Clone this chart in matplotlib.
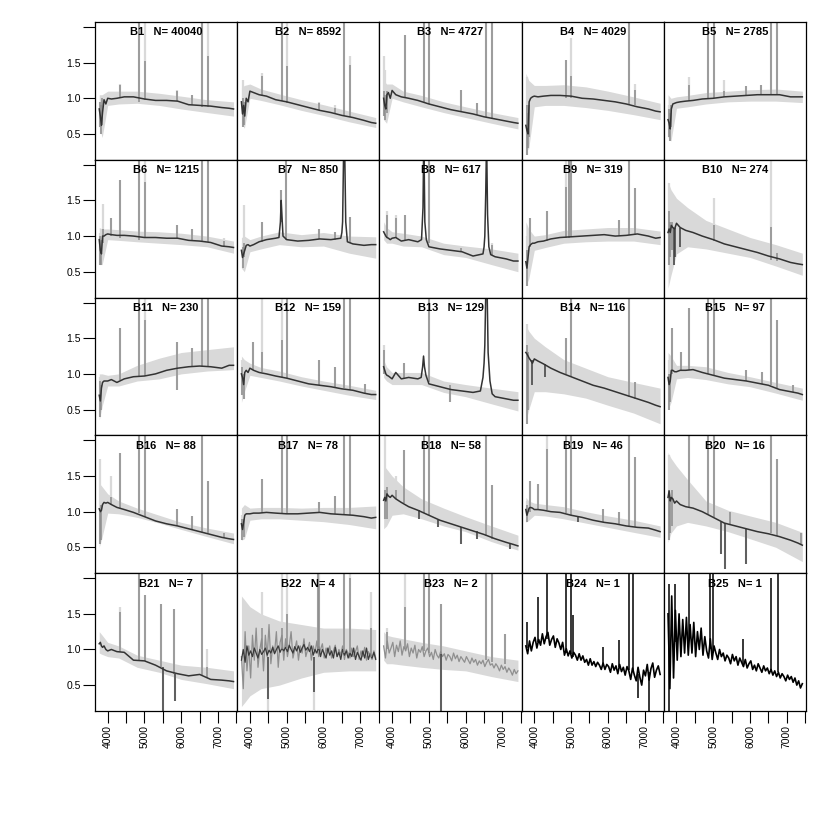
import numpy as np
import matplotlib
matplotlib.use("Agg")
import matplotlib.pyplot as plt

plt.rcParams['font.family'] = ['Liberation Sans', 'DejaVu Sans']

# ---- data ----
counts = [40040, 8592, 4727, 4029, 2785, 1215, 850, 617, 319, 274,
          230, 159, 129, 116, 97, 88, 78, 58, 46, 16, 7, 4, 2, 1, 1]

wave_med = [3770, 3800, 3830, 3860, 3900, 3950, 4000, 4100, 4250, 4450, 4700,
            5000, 5300, 5600, 5900, 6200, 6500, 6800, 7100, 7300, 7420]

# median spectrum of each group (None -> only the noisy curves below)
median = [
    [0.85, 0.75, 0.62, 0.8, 0.98, 0.92, 1.0, 0.99, 1.0, 1.02, 1.02, 0.99, 0.97, 0.97, 0.96, 0.91, 0.9, 0.89, 0.87, 0.86, 0.85],
    [0.95, 0.78, 0.9, 0.75, 1.0, 0.95, 1.1, 1.08, 1.05, 1.03, 0.98, 0.95, 0.91, 0.87, 0.83, 0.8, 0.76, 0.73, 0.69, 0.66, 0.65],
    [1.0, 0.9, 0.85, 1.05, 1.08, 1.0, 1.11, 1.05, 1.02, 1.0, 0.97, 0.92, 0.88, 0.84, 0.81, 0.78, 0.74, 0.71, 0.68, 0.66, 0.65],
    [0.62, 0.55, 0.5, 0.95, 1.0, 1.02, 1.03, 1.02, 1.03, 1.04, 1.04, 1.03, 1.0, 0.99, 0.97, 0.95, 0.92, 0.88, 0.85, 0.82, 0.81],
    [0.7, 0.65, 0.57, 0.85, 0.92, 0.93, 0.94, 0.95, 0.96, 0.97, 0.99, 1.0, 1.02, 1.03, 1.04, 1.05, 1.05, 1.05, 1.02, 1.02, 1.02],
    [0.95, 0.8, 0.75, 1.0, 1.0, 1.02, 1.03, 1.02, 1.01, 1.01, 1.0, 0.98, 0.98, 0.97, 0.97, 0.94, 0.93, 0.91, 0.86, 0.85, 0.84],
    [0.8, 0.7, 0.75, 0.8, 0.87, 0.88, 0.86, 0.88, 0.92, 0.95, 0.97, 0.95, 0.93, 0.94, 0.96, 0.95, 1.05, 0.89, 0.87, 0.88, 0.88],
    [1.06, 1.03, 1.0, 0.98, 0.97, 0.95, 0.97, 0.98, 0.93, 0.95, 0.92, 0.85, 0.82, 0.8, 0.78, 0.72, 0.85, 0.71, 0.68, 0.65, 0.65],
    [0.64, 0.55, 0.7, 0.85, 0.88, 0.9, 0.9, 0.92, 0.93, 0.96, 0.98, 0.99, 1.0, 1.01, 1.02, 1.0, 1.01, 1.03, 1.0, 0.97, 0.98],
    [1.05, 1.1, 1.05, 1.15, 1.12, 1.1, 1.18, 1.12, 1.08, 1.05, 1.0, 0.95, 0.89, 0.85, 0.81, 0.77, 0.72, 0.68, 0.63, 0.61, 0.6],
    [0.7, 0.62, 0.8, 0.88, 0.9, 0.9, 0.9, 0.92, 0.88, 0.93, 0.96, 0.97, 1.0, 1.05, 1.08, 1.1, 1.11, 1.1, 1.08, 1.12, 1.12],
    [1.0, 0.95, 0.85, 1.02, 1.05, 1.02, 1.08, 1.05, 1.02, 1.0, 0.97, 0.94, 0.9, 0.86, 0.84, 0.82, 0.79, 0.77, 0.73, 0.71, 0.71],
    [1.1, 1.05, 1.0, 0.98, 0.97, 0.95, 0.93, 1.02, 0.93, 0.95, 0.93, 0.86, 0.82, 0.78, 0.76, 0.74, 1.15, 0.68, 0.65, 0.63, 0.63],
    [1.3, 1.28, 1.25, 1.22, 1.19, 1.15, 1.21, 1.18, 1.14, 1.08, 1.02, 0.96, 0.9, 0.84, 0.8, 0.75, 0.7, 0.65, 0.6, 0.56, 0.54],
    [0.95, 0.85, 0.9, 1.05, 1.05, 1.03, 1.03, 1.05, 1.05, 1.06, 1.02, 0.98, 0.94, 0.92, 0.9, 0.87, 0.84, 0.78, 0.75, 0.73, 0.71],
    [1.04, 1.0, 1.02, 1.1, 1.13, 1.12, 1.13, 1.1, 1.06, 1.03, 0.99, 0.93, 0.87, 0.83, 0.8, 0.76, 0.72, 0.68, 0.64, 0.62, 0.61],
    [0.83, 0.75, 0.85, 0.95, 0.97, 0.97, 0.97, 0.98, 0.98, 0.99, 0.98, 0.97, 0.97, 0.98, 0.99, 0.97, 0.96, 0.95, 0.93, 0.91, 0.92],
    [1.16, 1.2, 1.15, 1.25, 1.22, 1.2, 1.23, 1.18, 1.13, 1.07, 1.02, 0.95, 0.88, 0.83, 0.78, 0.73, 0.68, 0.62, 0.57, 0.54, 0.52],
    [1.03, 0.95, 1.0, 1.05, 1.06, 1.05, 1.03, 1.03, 1.02, 1.0, 0.99, 0.95, 0.92, 0.88, 0.85, 0.83, 0.8, 0.78, 0.77, 0.74, 0.72],
    [1.2, 1.29, 1.15, 1.2, 1.18, 1.12, 1.15, 1.1, 1.07, 1.05, 1.0, 0.92, 0.84, 0.8, 0.76, 0.72, 0.69, 0.65, 0.6, 0.56, 0.53],
    [1.08, 1.1, 1.05, 1.03, 1.05, 1.0, 0.98, 1.0, 0.97, 0.96, 0.85, 0.84, 0.78, 0.7, 0.66, 0.63, 0.65, 0.58, 0.57, 0.56, 0.55],
    None, None, None, None,
]

# broad line profiles added to the median (wavelength, flux)
broad = [[] for _ in range(25)]
broad[6] = [(4790, 0.98), (4830, 1.2), (4850, 1.5), (4870, 1.3), (4900, 1.0),
            (6470, 0.97), (6520, 1.2), (6545, 2.1), (6580, 2.1), (6605, 1.2), (6650, 0.92)]
broad[7] = [(4800, 0.95), (4840, 1.4), (4855, 2.1), (4870, 2.1), (4890, 1.2), (4930, 0.95),
            (6470, 0.75), (6520, 1.0), (6545, 1.6), (6560, 2.1), (6575, 2.1), (6595, 1.3),
            (6630, 0.85), (6680, 0.74)]
broad[12] = [(4790, 0.95), (4830, 1.1), (4855, 1.25), (4880, 1.1), (4920, 0.98),
             (6400, 0.76), (6470, 0.95), (6520, 1.4), (6545, 2.1), (6585, 2.1), (6610, 1.3),
             (6660, 0.9), (6720, 0.72)]

# spread of the group (light band)
band_wave = [3770, 3850, 4000, 4300, 4800, 5400, 6000, 6700, 7420]
band_hi = [
    [1.05, 1.05, 1.1, 1.1, 1.1, 1.07, 1.03, 0.98, 0.95],
    [1.15, 1.18, 1.2, 1.13, 1.06, 0.98, 0.91, 0.82, 0.73],
    [1.25, 1.2, 1.2, 1.1, 1.04, 0.95, 0.88, 0.8, 0.73],
    [1.35, 1.25, 1.18, 1.18, 1.19, 1.16, 1.1, 1.02, 0.93],
    [1.05, 1.0, 1.02, 1.04, 1.08, 1.1, 1.12, 1.13, 1.1],
    [1.12, 1.1, 1.1, 1.09, 1.07, 1.06, 1.04, 1.0, 0.93],
    [0.98, 1.0, 0.95, 1.0, 1.06, 1.02, 1.05, 1.0, 0.99],
    [1.2, 1.12, 1.06, 1.04, 1.0, 0.9, 0.86, 0.82, 0.76],
    [1.2, 1.1, 1.0, 1.02, 1.08, 1.1, 1.12, 1.12, 1.07],
    [1.76, 1.65, 1.53, 1.4, 1.22, 1.1, 0.98, 0.88, 0.76],
    [1.0, 1.0, 0.98, 1.0, 1.12, 1.22, 1.3, 1.34, 1.38],
    [1.25, 1.2, 1.15, 1.09, 1.04, 0.96, 0.9, 0.84, 0.77],
    [1.2, 1.1, 1.02, 1.02, 1.02, 0.9, 0.85, 0.8, 0.75],
    [1.68, 1.6, 1.5, 1.38, 1.2, 1.08, 0.96, 0.88, 0.8],
    [1.3, 1.25, 1.12, 1.12, 1.1, 1.02, 0.96, 0.88, 0.8],
    [1.4, 1.35, 1.25, 1.15, 1.05, 0.95, 0.85, 0.77, 0.7],
    [1.05, 1.1, 1.05, 1.06, 1.06, 1.05, 1.06, 1.06, 1.08],
    [1.65, 1.6, 1.5, 1.35, 1.18, 1.05, 0.93, 0.8, 0.67],
    [1.2, 1.15, 1.12, 1.1, 1.07, 1.0, 0.94, 0.88, 0.8],
    [1.83, 1.75, 1.64, 1.45, 1.15, 1.02, 0.94, 0.85, 0.71],
    [1.25, 1.2, 1.1, 1.05, 0.92, 0.85, 0.78, 0.75, 0.7],
    [1.75, 1.7, 1.6, 1.5, 1.4, 1.35, 1.3, 1.3, 1.28],
    [1.25, 1.2, 1.18, 1.15, 1.1, 1.05, 0.98, 0.9, 0.85],
    None, None,
]
band_lo = [
    [0.6, 0.45, 0.9, 0.92, 0.93, 0.9, 0.85, 0.8, 0.75],
    [0.65, 0.58, 1.0, 0.97, 0.91, 0.83, 0.76, 0.67, 0.59],
    [0.7, 0.65, 1.0, 0.95, 0.88, 0.8, 0.73, 0.65, 0.57],
    [0.25, 0.3, 0.88, 0.9, 0.9, 0.87, 0.83, 0.77, 0.7],
    [0.45, 0.4, 0.86, 0.88, 0.92, 0.95, 0.96, 0.96, 0.94],
    [0.6, 0.6, 0.95, 0.94, 0.92, 0.9, 0.88, 0.85, 0.76],
    [0.55, 0.5, 0.78, 0.82, 0.88, 0.85, 0.86, 0.76, 0.69],
    [0.95, 0.9, 0.9, 0.86, 0.85, 0.74, 0.7, 0.6, 0.5],
    [0.3, 0.4, 0.8, 0.84, 0.9, 0.92, 0.93, 0.93, 0.88],
    [0.27, 0.45, 0.75, 0.85, 0.82, 0.76, 0.7, 0.58, 0.45],
    [0.35, 0.55, 0.83, 0.83, 0.9, 0.93, 1.0, 1.04, 1.06],
    [0.6, 0.75, 0.98, 0.95, 0.9, 0.83, 0.77, 0.7, 0.64],
    [0.95, 0.9, 0.85, 0.85, 0.85, 0.74, 0.68, 0.58, 0.48],
    [0.33, 0.5, 0.75, 0.75, 0.72, 0.66, 0.56, 0.45, 0.3],
    [0.5, 0.6, 0.93, 0.95, 0.92, 0.86, 0.82, 0.73, 0.63],
    [0.5, 0.65, 0.98, 0.97, 0.92, 0.84, 0.75, 0.65, 0.55],
    [0.6, 0.62, 0.88, 0.9, 0.9, 0.88, 0.86, 0.82, 0.76],
    [0.76, 0.8, 0.95, 0.97, 0.9, 0.8, 0.72, 0.58, 0.46],
    [0.85, 0.88, 0.95, 0.94, 0.9, 0.84, 0.78, 0.71, 0.64],
    [0.57, 0.7, 0.8, 0.85, 0.8, 0.72, 0.62, 0.5, 0.3],
    [0.95, 0.93, 0.9, 0.88, 0.75, 0.68, 0.58, 0.52, 0.45],
    [0.2, 0.25, 0.35, 0.45, 0.5, 0.6, 0.68, 0.7, 0.7],
    [0.85, 0.8, 0.8, 0.78, 0.75, 0.72, 0.7, 0.62, 0.55],
    None, None,
]

# narrow lines: (wavelength, continuum, median peak, band extreme)
spikes = [
    [(3790, 0.6, 0.95, 0.95), (3820, 0.5, 0.9, 0.9), (3850, 0.62, 1.0, 1.0), (4340, 1.0, 1.18, 1.2),
     (4861, 0.95, 2.1, 2.1), (5007, 0.97, 1.52, 2.1), (5876, 0.96, 1.1, 1.12), (6300, 0.9, 1.04, 1.05),
     (6563, 0.88, 2.1, 2.1), (6724, 0.88, 1.59, 2.1)],
    [(3800, 0.6, 1.0, 1.26), (3850, 0.62, 0.95, 0.95), (4340, 1.05, 1.31, 1.35), (4861, 0.96, 2.1, 2.1),
     (5007, 0.94, 1.45, 2.1), (5876, 0.84, 0.93, 0.95), (6300, 0.79, 0.87, 0.9), (6563, 0.75, 2.1, 2.1),
     (6724, 0.74, 1.47, 1.6)],
    [(3780, 0.75, 1.1, 1.6), (3810, 0.7, 1.05, 1.4), (3850, 0.8, 1.1, 1.1), (4340, 1.0, 1.89, 1.89),
     (4861, 0.95, 2.1, 2.1), (5007, 0.92, 2.1, 2.1), (5876, 0.81, 1.12, 1.12), (6300, 0.77, 0.94, 0.94),
     (6563, 0.74, 2.1, 2.1), (6724, 0.72, 2.1, 2.1)],
    [(3790, 0.2, 0.9, 1.3), (3820, 0.3, 0.8, 1.0), (3850, 0.45, 0.9, 0.9), (4861, 1.0, 1.54, 1.54),
     (5007, 1.0, 1.31, 1.85), (6563, 0.92, 2.05, 2.05), (6724, 0.9, 1.12, 1.2)],
    [(3790, 0.45, 0.85, 0.9), (3820, 0.4, 0.8, 0.85), (3860, 0.6, 0.9, 0.9), (4340, 0.96, 1.19, 1.3),
     (4861, 0.99, 2.1, 2.1), (5007, 1.0, 2.1, 2.1), (5280, 1.02, 1.1, 1.26), (5876, 1.04, 1.17, 1.17),
     (6300, 1.05, 1.19, 1.19), (6563, 1.05, 2.1, 2.1), (6724, 1.05, 2.1, 2.1)],
    [(3790, 0.6, 1.0, 1.05), (3820, 0.6, 0.95, 1.0), (3870, 0.9, 1.1, 1.45), (4100, 1.0, 1.25, 1.25),
     (4340, 0.97, 1.78, 1.78), (4861, 0.95, 2.1, 2.1), (5007, 0.97, 1.76, 2.1), (5876, 0.97, 1.16, 1.16),
     (6300, 0.94, 1.1, 1.1), (6563, 0.93, 2.1, 2.1), (6724, 0.92, 2.1, 2.1), (7150, 0.86, 0.93, 0.97)],
    [(3800, 0.55, 0.85, 0.9), (3840, 0.7, 0.9, 1.43), (4340, 0.92, 1.2, 1.2), (4850, 1.2, 1.64, 1.64),
     (4990, 0.95, 2.1, 2.1), (5876, 0.96, 1.1, 1.1), (6300, 0.95, 1.06, 1.06), (6720, 0.9, 1.27, 1.27)],
    [(3870, 0.98, 1.3, 1.35), (4100, 0.97, 1.25, 1.3), (4340, 0.95, 1.3, 1.3), (5007, 0.9, 2.1, 2.1),
     (5876, 0.78, 0.83, 0.86), (6724, 0.73, 0.87, 0.9)],
    [(3790, 0.3, 0.8, 1.0), (3880, 0.85, 1.25, 1.25), (4340, 0.93, 1.35, 1.35), (4861, 0.98, 1.69, 2.1),
     (4950, 0.98, 2.1, 2.1), (5007, 0.99, 2.1, 2.1), (6300, 1.0, 1.22, 1.22), (6563, 1.01, 2.1, 2.1),
     (6735, 1.02, 1.67, 1.67)],
    [(3800, 0.6, 1.35, 1.75), (3830, 0.7, 1.2, 1.5), (3870, 0.8, 1.2, 1.3), (3934, 1.12, 0.6, 0.6),
     (3968, 1.12, 0.7, 0.7), (4102, 1.12, 0.85, 0.85), (5007, 0.93, 1.15, 1.53), (6563, 0.66, 1.13, 2.1),
     (6724, 0.65, 0.76, 0.76)],
    [(3790, 0.4, 0.9, 0.95), (3820, 0.5, 0.85, 0.9), (4340, 0.92, 1.64, 1.64), (4861, 0.95, 2.1, 2.1),
     (5007, 0.97, 1.75, 2.1), (5876, 0.77, 1.45, 1.45), (6300, 1.1, 1.36, 1.36), (6563, 1.1, 2.1, 2.1),
     (6717, 1.1, 2.1, 2.1)],
    [(3790, 0.7, 1.1, 1.2), (3830, 0.65, 1.0, 1.1), (4090, 1.05, 1.45, 1.45), (4320, 1.02, 1.3, 2.1),
     (4861, 0.96, 1.47, 2.1), (5007, 0.94, 2.1, 2.1), (5890, 0.84, 1.19, 1.19), (6320, 0.81, 1.1, 1.1),
     (6563, 0.8, 2.1, 2.1), (6727, 0.78, 2.1, 2.1), (7140, 0.72, 0.86, 0.86)],
    [(3780, 1.0, 1.33, 1.4), (4330, 0.93, 1.15, 1.15), (5007, 0.88, 2.1, 2.1), (5577, 0.6, 0.85, 0.85)],
    [(3790, 0.3, 1.4, 1.7), (3830, 0.5, 1.3, 1.5), (3950, 1.2, 0.85, 0.85), (4290, 1.14, 0.95, 0.95),
     (4861, 1.0, 1.5, 1.5), (5007, 0.96, 2.1, 2.1), (6563, 0.68, 2.1, 2.1), (6724, 0.65, 0.89, 0.89)],
    [(3790, 0.5, 1.0, 1.2), (3830, 0.6, 1.0, 1.1), (3870, 1.0, 1.64, 1.64), (4130, 1.05, 1.31, 1.31),
     (4340, 1.05, 1.92, 1.92), (4861, 1.0, 2.1, 2.1), (5007, 0.98, 2.1, 2.1), (5900, 0.9, 1.05, 1.05),
     (6330, 0.86, 1.03, 1.03), (6563, 0.84, 2.1, 2.1), (6730, 0.8, 1.75, 1.75), (7170, 0.75, 0.84, 0.84)],
    [(3800, 0.55, 1.0, 1.74), (3830, 0.6, 1.1, 1.3), (4090, 1.1, 1.2, 1.5), (4340, 1.05, 1.83, 1.83),
     (4861, 0.98, 2.1, 2.1), (5007, 0.93, 2.1, 2.1), (5890, 0.8, 1.04, 1.04), (6290, 0.76, 0.94, 0.94),
     (6563, 0.72, 2.1, 2.1), (6717, 0.7, 1.43, 1.43), (7150, 0.63, 0.7, 0.7)],
    [(3790, 0.6, 0.9, 0.95), (3830, 0.65, 0.9, 0.95), (4340, 0.98, 1.46, 1.46), (4861, 0.97, 2.1, 2.1),
     (5007, 0.97, 2.1, 2.1), (5890, 0.99, 1.13, 1.13), (6320, 0.97, 1.22, 1.22), (6563, 0.96, 2.1, 2.1),
     (6710, 0.95, 2.1, 2.1)],
    [(3810, 0.9, 1.3, 2.1), (3850, 0.9, 1.35, 1.45), (4100, 1.18, 1.3, 1.5), (4330, 1.12, 1.86, 1.86),
     (4720, 1.02, 0.9, 0.9), (4861, 0.98, 2.1, 2.1), (5007, 0.95, 2.1, 2.1), (5250, 0.89, 0.78, 0.78),
     (5880, 0.78, 0.55, 0.55), (6300, 0.73, 0.62, 0.62), (6563, 0.66, 2.1, 2.1), (6720, 0.62, 1.37, 1.37),
     (7200, 0.56, 0.48, 0.48)],
    [(3800, 0.85, 1.1, 1.15), (3870, 1.0, 1.43, 1.43), (4090, 1.03, 1.39, 1.39), (4340, 1.02, 1.88, 2.1),
     (4861, 0.98, 2.1, 2.1), (5007, 0.95, 2.1, 2.1), (5200, 0.93, 0.85, 0.85), (5880, 0.85, 1.04, 1.04),
     (6300, 0.82, 1.0, 1.0), (6563, 0.8, 2.1, 2.1), (6740, 0.78, 1.76, 1.76)],
    [(3790, 0.6, 1.3, 1.8), (3830, 0.7, 1.2, 1.5), (3870, 0.8, 1.3, 1.4), (4340, 1.05, 2.1, 2.1),
     (4861, 0.97, 2.1, 2.1), (5007, 0.92, 2.1, 2.1), (5215, 0.86, 0.4, 0.4), (5330, 0.84, 0.2, 0.2),
     (5450, 0.82, 1.0, 1.0), (5900, 0.76, 0.27, 0.27), (6563, 0.7, 2.1, 2.1), (6730, 0.66, 1.74, 1.74),
     (7390, 0.53, 0.7, 0.7)],
    [(4340, 0.97, 1.52, 1.6), (4861, 0.85, 2.1, 2.1), (5007, 0.84, 1.76, 1.76), (5450, 0.75, 1.64, 1.64),
     (5500, 0.75, 0.14, 0.14), (5800, 0.66, 1.57, 1.57), (5820, 0.66, 0.28, 0.28), (6563, 0.64, 2.1, 2.1),
     (6700, 0.6, 0.75, 1.0)],
    [(4340, 1.0, 1.3, 1.8), (4500, 0.9, 0.3, 0.14), (4861, 1.0, 1.3, 2.1), (5007, 1.0, 1.5, 2.1),
     (5750, 0.9, 0.4, 0.15), (5860, 1.0, 2.1, 2.1), (5880, 1.0, 1.9, 2.1), (6563, 0.95, 2.1, 2.1),
     (6730, 0.95, 2.0, 2.1), (7300, 0.9, 1.3, 1.8)],
    [(3850, 1.0, 1.25, 1.3), (4340, 1.0, 1.6, 2.1), (4861, 0.98, 2.1, 2.1), (5007, 0.95, 2.1, 2.1),
     (5330, 0.93, 1.64, 1.64), (5340, 0.93, 0.14, 0.14), (6563, 0.85, 2.1, 2.1), (6720, 0.83, 2.1, 2.1),
     (7077, 0.8, 1.22, 1.22)],
    [(3810, 1.02, 1.38, 1.38), (4090, 1.1, 1.73, 1.73), (4340, 1.15, 2.1, 2.1), (4861, 0.95, 2.1, 2.1),
     (5007, 0.93, 2.1, 2.1), (5060, 0.9, 1.48, 1.48), (5880, 0.78, 1.03, 1.03), (6300, 0.75, 1.13, 1.13),
     (6580, 0.71, 2.1, 2.1), (6690, 0.7, 2.1, 2.1), (6830, 0.66, 0.32, 0.32), (7120, 0.68, 0.14, 0.14)],
    [(3790, 1.0, 1.92, 1.92), (3800, 1.0, 0.14, 0.14), (3950, 1.1, 1.92, 1.92), (4350, 1.15, 2.1, 2.1),
     (4910, 1.0, 2.1, 2.1), (5000, 0.95, 2.1, 2.1), (5820, 0.8, 1.15, 1.15), (6570, 0.71, 2.0, 2.0),
     (6760, 0.68, 2.1, 2.1)],
]

# the small groups: spectra sampled every 50 A from 3770 A
b22_mid = [0.9, 0.45, 1.25, 0.7, 1.05, 0.6, 1.2, 0.85, 1.3, 0.75, 1.0, 1.15,
           0.7, 1.2, 0.9, 1.35, 0.8, 1.05, 0.95, 1.25, 0.75, 1.1, 1.2, 0.85,
           1.15, 0.9, 1.05, 1.25, 0.88, 1.0, 1.12, 0.85, 1.05, 0.95, 1.15, 0.9,
           1.0, 1.1, 0.85, 1.05, 0.95, 1.12, 0.9, 1.0, 1.08, 0.88, 1.02, 0.95,
           1.05, 0.88, 0.98, 1.06, 0.9, 1.0, 0.92, 1.05, 0.86, 1.0, 0.95, 0.88,
           1.02, 0.9, 0.97, 1.05, 0.86, 0.98, 0.9, 1.03, 0.85, 0.97, 0.92, 0.86,
           0.98, 0.88]
b22_dark = [0.85, 1.0, 0.82, 1.05, 0.92, 0.98, 0.9, 1.02, 0.95, 0.88, 1.0, 0.93,
            0.97, 1.02, 0.92, 0.99, 0.95, 1.03, 0.94, 1.0, 1.05, 0.96, 1.02, 0.98,
            1.03, 0.97, 1.06, 1.0, 0.95, 1.04, 0.98, 1.05, 0.96, 1.02, 1.07, 0.99,
            1.03, 0.97, 1.05, 0.92, 1.0, 0.95, 1.04, 0.9, 1.0, 0.94, 0.88, 1.02,
            0.92, 0.98, 0.88, 1.03, 0.9, 0.96, 0.86, 1.0, 0.92, 0.98, 0.88, 0.95,
            0.9, 1.02, 0.86, 0.96, 0.9, 0.85, 0.98, 0.88, 1.02, 0.86, 0.94, 0.88,
            0.96, 0.86]
b23_mid = [1.05, 0.88, 1.12, 0.95, 1.02, 1.1, 0.9, 1.06, 0.97, 1.12, 0.92, 1.04,
           0.98, 1.08, 0.9, 1.02, 0.95, 1.06, 0.88, 1.0, 0.96, 1.04, 0.9, 0.98,
           1.02, 0.9, 0.96, 0.86, 1.0, 0.92, 0.88, 0.97, 0.9, 0.94, 0.85, 0.93,
           0.9, 0.84, 0.95, 0.87, 0.92, 0.83, 0.9, 0.86, 0.82, 0.9, 0.85, 0.8,
           0.88, 0.82, 0.86, 0.78, 0.84, 0.8, 0.85, 0.76, 0.82, 0.86, 0.78, 0.8,
           0.74, 0.8, 0.76, 0.7, 0.78, 0.72, 0.76, 0.68, 0.74, 0.7, 0.64, 0.72,
           0.66, 0.7]
b24_flux = [1.05, 0.94, 1.12, 0.98, 1.1, 1.17, 1.02, 1.14, 1.06, 1.22, 1.08, 1.18,
            1.24, 1.06, 1.14, 1.19, 1.03, 1.15, 1.09, 1.0, 1.1, 0.92, 1.01, 0.91,
            0.98, 0.88, 0.96, 0.92, 0.85, 0.94, 0.85, 0.91, 0.82, 0.86, 0.78, 0.87,
            0.78, 0.83, 0.76, 0.82, 0.78, 0.72, 0.81, 0.72, 0.79, 0.76, 0.68, 0.8,
            0.71, 0.77, 0.66, 0.79, 0.69, 0.75, 0.64, 0.76, 0.7, 0.58, 0.74, 0.64,
            0.56, 0.75, 0.61, 0.5, 0.71, 0.63, 0.79, 0.57, 0.73, 0.81, 0.61, 0.71,
            0.77, 0.65]
b25_flux = [1.5, 0.45, 1.75, 0.6, 1.55, 0.85, 1.5, 0.9, 1.42, 0.95, 1.45, 0.92,
            1.35, 0.95, 1.38, 0.9, 1.25, 1.0, 1.3, 0.92, 1.18, 0.98, 0.88, 1.15,
            0.86, 1.05, 0.95, 0.86, 1.0, 0.9, 0.95, 0.84, 0.92, 0.88, 0.8, 0.93,
            0.84, 0.9, 0.78, 0.88, 0.82, 0.76, 0.86, 0.74, 0.8, 0.84, 0.72, 0.78,
            0.7, 0.8, 0.74, 0.68, 0.77, 0.7, 0.74, 0.66, 0.72, 0.64, 0.7, 0.62,
            0.68, 0.6, 0.66, 0.62, 0.56, 0.64, 0.58, 0.62, 0.54, 0.6, 0.5, 0.56,
            0.46, 0.52]

noisy_mid = {21: b22_mid, 22: b23_mid}
noisy_dark = {21: b22_dark}
noisy_black = {23: b24_flux, 24: b25_flux}

xticks = [4000, 4500, 5000, 5500, 6000, 6500, 7000, 7500]
xlabels = ['4000', '', '5000', '', '6000', '', '7000', '']
yticks = [0.5, 1.0, 1.5, 2.0]
ylabels = ['0.5', '1.0', '1.5', '']

LIGHT = '#d9d9d9'
MID = '#8c8c8c'
DARK = '#333333'


def noise_wave(vals):
    return np.arange(3770, 3770 + 50 * len(vals), 50)


fig, axes = plt.subplots(5, 5, figsize=(8.3, 8.3), dpi=100)
fig.subplots_adjust(left=95 / 830, right=806 / 830, top=1 - 22 / 830,
                    bottom=1 - 711 / 830, wspace=0, hspace=0)

for i, ax in enumerate(axes.flat):
    row, col = divmod(i, 5)
    black = i in noisy_black

    if band_lo[i] is not None:
        ax.fill_between(band_wave, band_lo[i], band_hi[i], color=LIGHT, lw=0)
    for w, base, peak, ext in spikes[i]:
        if not black:
            ax.vlines(w, base, ext, color=LIGHT, lw=1.6)

    if i in noisy_mid:
        ax.plot(noise_wave(noisy_mid[i]), noisy_mid[i], color='#8f8f8f', lw=0.9)
    if i in noisy_dark:
        ax.plot(noise_wave(noisy_dark[i]), noisy_dark[i], color='#3a3a3a', lw=0.9)
    if black:
        ax.plot(noise_wave(noisy_black[i]), noisy_black[i], color='black', lw=1.2)

    for w, base, peak, ext in spikes[i]:
        if black:
            c = 'black'
        elif peak < base:
            c = '#3c3c3c'
        else:
            c = MID
        ax.vlines(w, base, peak, color=c, lw=1.1)

    if median[i] is not None:
        pts = sorted(list(zip(wave_med, median[i])) + broad[i])
        ax.plot([p[0] for p in pts], [p[1] for p in pts], color=DARK, lw=1.1)

    ax.set_xlim(3655, 7520)
    ax.set_ylim(0.137, 2.07)
    ax.set_xticks(xticks)
    ax.set_xticklabels(xlabels, rotation=90)
    ax.set_yticks(yticks)
    ax.set_yticklabels(ylabels)
    ax.tick_params(direction='out', length=8.6, width=0.8, pad=1.5, labelsize=7.5,
                   left=(col == 0), labelleft=(col == 0),
                   bottom=(row == 4), labelbottom=(row == 4))
    for s in ax.spines.values():
        s.set_linewidth(0.9)
    ax.text(0.5, 0.925, f"B{i + 1}   N= {counts[i]}", transform=ax.transAxes,
            ha='center', va='center', fontsize=8, fontweight='bold')

fig.savefig('out.png', dpi=100)
